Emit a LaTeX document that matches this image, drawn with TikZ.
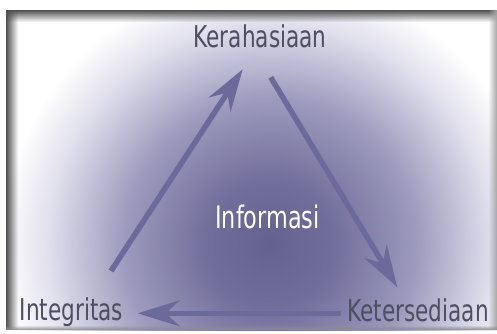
\documentclass[tikz,border=0pt]{standalone}
\usepackage{fontspec}
\setmainfont{DejaVu Sans}[FakeStretch=0.72]
\usetikzlibrary{arrows.meta,fadings}
\definecolor{gcA}{HTML}{65618E}
\definecolor{gcB}{HTML}{726E9B}
\definecolor{gcC}{HTML}{9E9BBE}
\definecolor{gcD}{HTML}{E2E1ED}
\definecolor{arrowcol}{HTML}{6B6A9A}
\definecolor{labelcol}{HTML}{4E4E63}
\definecolor{framecol}{HTML}{505050}
\pgfdeclareradialshading{glow}{\pgfpoint{0bp}{0bp}}{color(0bp)=(gcA); color(3.8bp)=(gcB); color(8.76bp)=(gcC); color(13.33bp)=(gcD); color(16bp)=(white); color(50bp)=(white)}
\tikzset{
  lbl/.style={font=\fontsize{30}{34}\selectfont, text=labelcol, inner sep=0pt, anchor=base},
  center/.style={font=\fontsize{31}{36}\selectfont, text=white, inner sep=0pt, anchor=base},
  cycarrow/.style={draw=arrowcol, line width=5.5pt, -{Stealth[length=42pt,width=26pt,inset=14pt]}}
}
\begin{document}
\begin{tikzpicture}[x=1pt,y=-1pt]
\useasboundingbox (0,0) rectangle (497,333);
\fill[white] (0,0) rectangle (497,333);
\begin{scope}
  \clip (6,10) rectangle (497,330);
  \fill[shading=glow] (270,245) circle [radius=420];
  % inner shadows of the frame
  \fill[framecol, path fading=south] (6,10) rectangle (497,22);
  \fill[framecol, path fading=east] (6,10) rectangle (18,330);
  \fill[black!35, path fading=west] (488,10) rectangle (497,330);
  \fill[black!45, path fading=north] (6,325) rectangle (497,330);
\end{scope}

\node[lbl] (K) at (260,47) {Kerahasiaan};
\node[lbl] (I) at (71.5,320) {Integritas};
\node[lbl] (S) at (418,321) {Ketersediaan};
\node[center] (C) at (267.5,228) {Informasi};

\coordinate (a1s) at (111,271);
\coordinate (a1e) at (242.7,69.3);
\coordinate (a2s) at (270.7,77.3);
\coordinate (a2e) at (397.3,287.3);
\coordinate (a3s) at (340.7,313.3);
\coordinate (a3e) at (137.7,313.3);

\draw[cycarrow] (a1s) -- (a1e);
\draw[cycarrow] (a2s) -- (a2e);
\draw[cycarrow] (a3s) -- (a3e);
\end{tikzpicture}
\end{document}
